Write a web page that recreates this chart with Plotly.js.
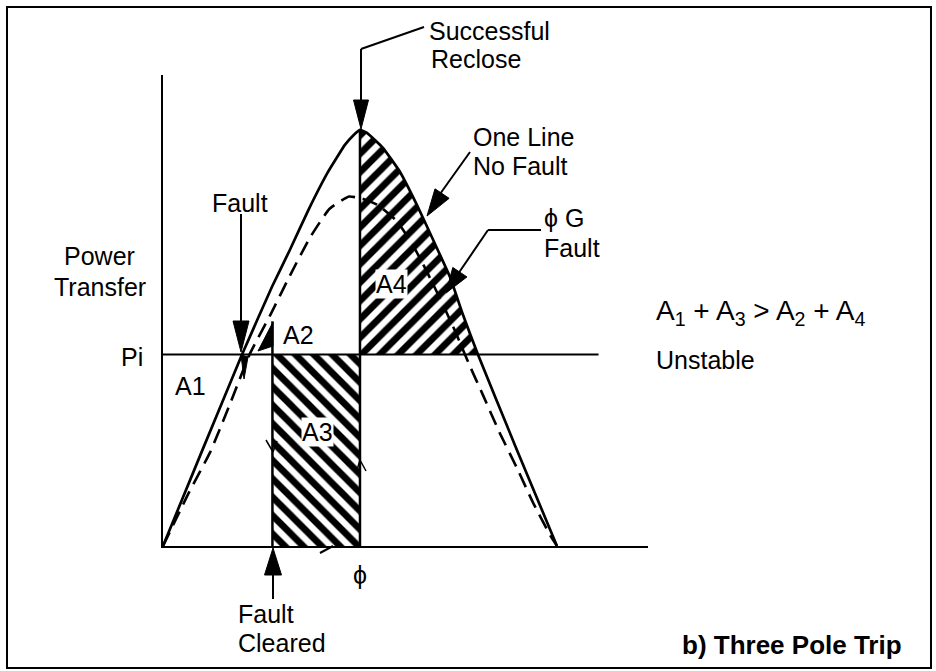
<!DOCTYPE html>
<html><head><meta charset="utf-8">
<script src="https://cdn.plot.ly/plotly-3.0.1.min.js"></script>
<style>html,body{margin:0;padding:0;background:#fff}</style>
</head><body><div id="chart" style="width:936px;height:671px"></div>
<script>
// ---- data (power angle in degrees, power in per-unit of the pre-fault peak) ----
const phiSolid = [0, 17.8, 36.1, 49.8, 58, 66.2, 75.4, 83.1, 86.8, 90, 93.2, 100.5, 108.3, 116, 123.4, 131.1, 137.1, 143.9, 161.7, 180];
const pSolid   = [0, 0.228, 0.46, 0.623, 0.712, 0.805, 0.899, 0.964, 0.986, 1.00, 0.993, 0.957, 0.899, 0.82, 0.736, 0.647, 0.555, 0.46, 0.231, 0];
const phiDashed = [0, 12, 21.5, 30.5, 39.5, 49, 58, 67, 76, 85, 91, 98, 107, 114, 120.5, 127.5, 134, 140, 146, 154, 161.5, 169, 177, 180];
const pDashed   = [0, 0.13, 0.225, 0.34, 0.46, 0.555, 0.65, 0.74, 0.81, 0.84, 0.835, 0.82, 0.78, 0.725, 0.66, 0.585, 0.51, 0.435, 0.365, 0.27, 0.19, 0.105, 0.025, 0];
const Pi = 0.46;
const phiFaultCleared = 50;
const pFaultClearedTop = 0.54;
const phiReclose = 90;
const pRecloseTop = 1.0;
const phiPiLineEnd = 199;
const xAxisMax = 221.6;
const yAxisMax = 1.132;

// ---- layout geometry helpers (pixel -> paper) ----
const L = 163, R = 648, T = 75, B = 546;
const px = p => (p - L) / (R - L);
const py = p => (B - p) / (B - T);

// A4 region: reclose line up to the curve, along the curve down to Pi
const a4x = [phiReclose], a4y = [Pi];
for (let i = 0; i < phiSolid.length; i++) {
  if (phiSolid[i] >= phiReclose && pSolid[i] >= Pi) { a4x.push(phiSolid[i]); a4y.push(pSolid[i]); }
}
const a3x = [phiFaultCleared, phiReclose, phiReclose, phiFaultCleared];
const a3y = [Pi, Pi, 0, 0];

const black = '#000';
const traces = [
  {x: a3x, y: a3y, mode: 'lines', fill: 'toself', line: {width: 0, color: black},
   fillcolor: '#fff', fillpattern: {shape: '\\', size: 13, solidity: 0.52, fgcolor: black, bgcolor: '#fff', fillmode: 'replace'},
   hoverinfo: 'skip', cliponaxis: false},
  {x: a4x, y: a4y, mode: 'lines', fill: 'toself', line: {width: 0, color: black},
   fillcolor: '#fff', fillpattern: {shape: '/', size: 13, solidity: 0.52, fgcolor: black, bgcolor: '#fff', fillmode: 'replace'},
   hoverinfo: 'skip', cliponaxis: false},
  {x: [0, phiPiLineEnd], y: [Pi, Pi], mode: 'lines', line: {color: black, width: 2}, cliponaxis: false},
  {x: phiSolid, y: pSolid, mode: 'lines', line: {color: black, width: 2.7, shape: 'spline', smoothing: 0.3}, cliponaxis: false},
  {x: phiDashed, y: pDashed, mode: 'lines', line: {color: black, width: 2.6, dash: '15px,8px', shape: 'spline', smoothing: 0.4}, cliponaxis: false},
  {x: [phiFaultCleared, phiFaultCleared], y: [0, pFaultClearedTop], mode: 'lines', line: {color: black, width: 2.5}, cliponaxis: false},
  {x: [phiReclose, phiReclose], y: [0, pRecloseTop], mode: 'lines', line: {color: black, width: 2.5}, cliponaxis: false}
];

const FONT = 'Liberation Sans, Arial, Helvetica, sans-serif';
function ann(text, x, y, anchor, extra) {
  return Object.assign({text: text, x: px(x), y: py(y), xref: 'paper', yref: 'paper',
    xanchor: anchor || 'left', yanchor: 'middle', showarrow: false,
    font: {family: FONT, size: 25, color: black}, borderpad: 0}, extra || {});
}
const annotations = [
  ann('Successful', 428, 31),
  ann('Reclose', 430, 59),
  ann('One Line', 472, 137),
  ann('No Fault', 472, 166),
  ann('ϕ G', 543, 218),
  ann('Fault', 543, 248),
  ann('Fault', 240, 203, 'center'),
  ann('Power', 99, 256, 'center'),
  ann('Transfer', 100, 287, 'center'),
  ann('Pi', 132, 357, 'center'),
  ann('A1', 190, 386, 'center'),
  ann('A2', 298, 335, 'center'),
  ann('A3', 317, 432, 'center', {bgcolor: '#fff'}),
  ann('A4', 391, 284, 'center', {bgcolor: '#fff'}),
  ann('A<sub>1</sub> + A<sub>3</sub> &gt; A<sub>2</sub> + A<sub>4</sub>', 655, 312, 'left', {font: {family: FONT, size: 28, color: black}}),
  ann('Unstable', 655, 360),
  ann('ϕ', 360, 575, 'center'),
  ann('Fault', 237, 614),
  ann('Cleared', 237, 643),
  ann('<b>b) Three Pole Trip</b>', 903, 645, 'right', {font: {family: FONT, size: 26, color: black}})
];

// leader lines and arrowheads
const shapes = [];
function seg(x0, y0, x1, y1, w) {
  shapes.push({type: 'line', xref: 'paper', yref: 'paper', x0: px(x0), y0: py(y0), x1: px(x1), y1: py(y1),
    line: {color: black, width: w || 2}});
}
function poly(pts) {
  const d = pts.map((p, i) => (i ? 'L' : 'M') + px(p[0]) + ',' + py(p[1])).join(' ') + ' Z';
  shapes.push({type: 'path', xref: 'paper', yref: 'paper', path: d, fillcolor: black, line: {color: black, width: 1}});
}
function head(tx, ty, fx, fy, len, hw) {
  const dx = fx - tx, dy = fy - ty, n = Math.hypot(dx, dy);
  const ux = dx / n, uy = dy / n;
  const bx = tx + ux * len, by = ty + uy * len;
  poly([[tx, ty], [bx - uy * hw, by + ux * hw], [bx + uy * hw, by - ux * hw]]);
}
// frame
shapes.push({type: 'rect', xref: 'paper', yref: 'paper', x0: px(7), y0: py(7), x1: px(931), y1: py(668),
  line: {color: black, width: 2}});
// Successful Reclose
seg(424, 27, 361, 49); seg(361, 49, 361, 104);
head(361, 129, 361, 49, 29, 7.5);
// Fault
seg(241, 214, 241, 326);
head(241, 352, 241, 214, 31, 8);
// Fault Cleared
seg(273, 599, 273, 570);
head(273, 548, 273, 599, 27, 8.5);
// One Line No Fault
seg(470, 152, 440, 194);
head(427, 216, 470, 152, 27, 8.5);
// phi G Fault
seg(541, 230, 488, 230); seg(488, 230, 458, 274);
head(446, 293, 488, 230, 25, 8.5);
// trajectory marks
poly([[241, 355], [248, 357], [244, 379]]);
poly([[258, 351], [273, 322], [273, 346]]);
seg(266, 440, 273, 452, 1.5); seg(273, 452, 277, 441, 1.5);
seg(320, 553, 333, 546, 2);
seg(357, 470, 360, 460, 1.5); seg(360, 460, 366, 471, 1.5);

const axisStyle = {showline: true, linecolor: black, linewidth: 2, showgrid: false, zeroline: false,
  showticklabels: false, ticks: '', fixedrange: true};
const layout = {
  width: 936, height: 671,
  margin: {l: L, r: 936 - R, t: T, b: 671 - B, pad: 0},
  paper_bgcolor: '#fff', plot_bgcolor: '#fff',
  showlegend: false,
  xaxis: Object.assign({range: [0, xAxisMax]}, axisStyle),
  yaxis: Object.assign({range: [0, yAxisMax]}, axisStyle),
  annotations: annotations,
  shapes: shapes,
  font: {family: FONT}
};
Plotly.newPlot('chart', traces, layout, {staticPlot: true, displayModeBar: false});
</script></body></html>
